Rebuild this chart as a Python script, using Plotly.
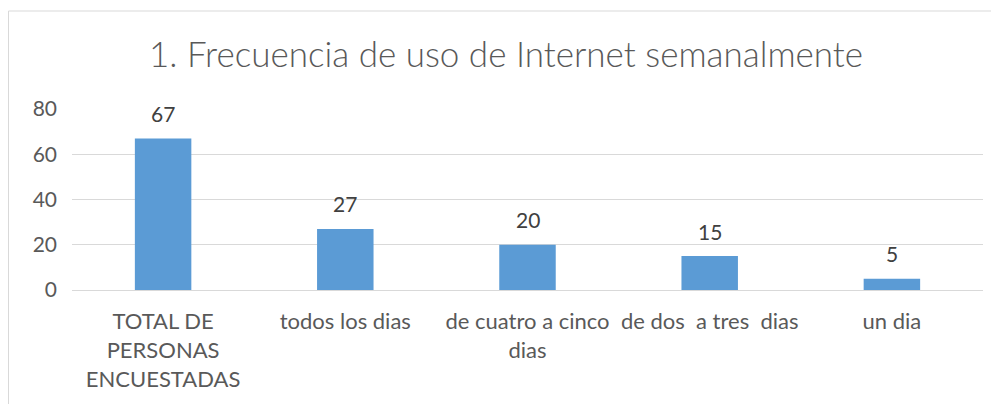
import plotly.graph_objects as go

categories = ["TOTAL DE<br>PERSONAS<br>ENCUESTADAS", "todos los dias", "de cuatro a cinco<br>dias",
              "de dos  a tres  dias", "un dia"]
values = [67, 27, 20, 15, 5]
y_ticks = [0, 20, 40, 60, 80]

O = 8  # page body margin offset
W, H = 999 - O, 404 - O
L, T = 72 - O, 109 - O
R = W - (983 - O)
B = H - (290 - O)
pw, ph = W - L - R, H - T - B

def px_x(p):  # p = screen pixel
    return (p - O - L) / pw

def px_y(p):
    return (H - B - (p - O)) / ph

FONT = "Lato, 'Open Sans', sans-serif"
GREY = "#595959"

fig = go.Figure(go.Bar(
    x=list(range(len(categories))), y=values,
    marker=dict(color="#5B9BD5", line=dict(width=0)),
    width=0.31, hoverinfo="skip"))

for i, v in enumerate(values):
    fig.add_annotation(x=i, y=v, text=str(v), showarrow=False, yshift=25,
                       font=dict(family=FONT, size=21, color="#404040"))

fig.add_shape(type="rect", xref="paper", yref="paper",
              x0=px_x(8.5), x1=px_x(1030), y0=px_y(440), y1=px_y(11),
              line=dict(color="#D9D9D9", width=1), fillcolor="rgba(0,0,0,0)", layer="below")

fig.update_layout(
    width=W, height=H,
    margin=dict(l=L, r=R, t=T, b=B),
    paper_bgcolor="white", plot_bgcolor="white",
    showlegend=False,
    title=dict(text="1. Frecuencia de uso de Internet semanalmente",
               x=(506 - O) / W, xanchor="center",
               y=1 - (55 - O) / H, yanchor="middle",
               font=dict(family=FONT, size=35, color=GREY, weight=300)),
    xaxis=dict(tickmode="array", tickvals=list(range(len(categories))), ticktext=categories,
               range=[-0.5, len(categories) - 0.5], showgrid=False, zeroline=False,
               showline=True, linecolor="#D9D9D9", linewidth=1, ticks="",
               ticklabelstandoff=12,
               tickfont=dict(family=FONT, size=22, color=GREY), tickangle=0),
    yaxis=dict(range=[0, 80], tickvals=y_ticks, showgrid=True, gridcolor="#D9D9D9",
               gridwidth=1, zeroline=False, showline=False, ticks="",
               ticklabelstandoff=14,
               tickfont=dict(family=FONT, size=21, color=GREY)),
)

fig.write_html("out.html")
